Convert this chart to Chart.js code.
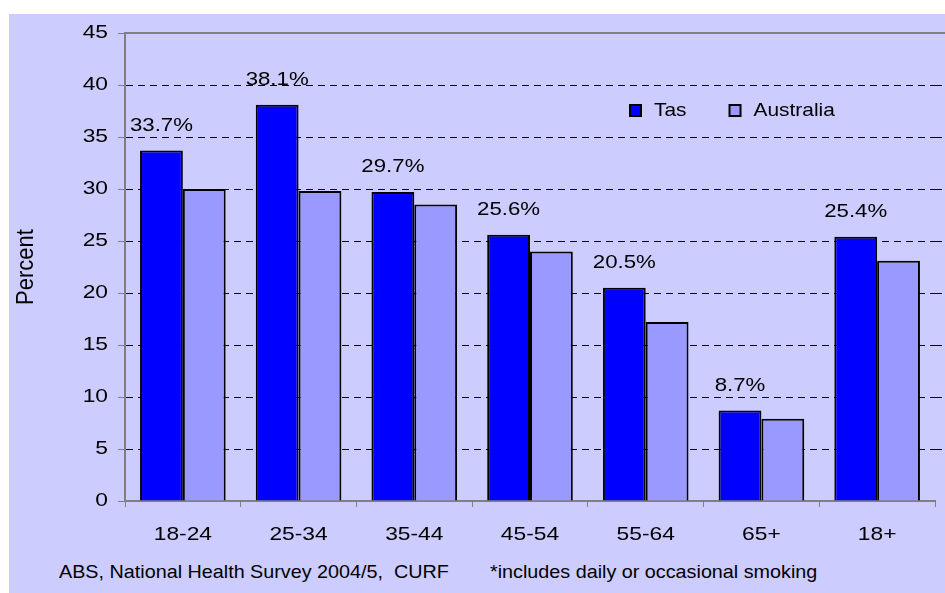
<!DOCTYPE html>
<html>
<head>
<meta charset="utf-8">
<title>Smoking by age - Tas vs Australia</title>
<script src="https://cdn.jsdelivr.net/npm/chart.js@4.4.0/dist/chart.umd.min.js"></script>
<style>
  body {
    margin: 0;
    width: 945px;
    height: 593px;
    overflow: hidden;
    position: relative;
    background: #ffffff;
    font-family: "Liberation Sans", Arial, sans-serif;
  }
  .frame {
    position: absolute;
    left: 9px;
    top: 14px;
    width: 936px;
    height: 579px;
    background: #ccccff;
  }
  .chartBox {
    position: absolute;
    left: 0;
    top: 0;
    width: 936px;
    height: 542px;
  }
  .note {
    position: absolute;
    top: 547px;
    font-size: 19px;
    line-height: 22px;
    color: #000;
    white-space: pre;
    transform: scaleX(1.04);
    transform-origin: 0 50%;
  }
</style>
</head>
<body>
<div class="frame">
  <div class="chartBox"><canvas id="smokingChart"></canvas></div>
  <span class="note" style="left:50px">ABS, National Health Survey 2004/5,  CURF</span>
  <span class="note" style="left:481px">*includes daily or occasional smoking</span>
</div>

<script>
const ageGroups = ["18-24", "25-34", "35-44", "45-54", "55-64", "65+", "18+"];
const tasValues = [33.7, 38.1, 29.7, 25.6, 20.5, 8.7, 25.4];
const ausValues = [30.0, 29.8, 28.5, 24.0, 17.2, 7.9, 23.1];
const seriesNames = ["Tas", "Australia"];
const yTitle = "Percent";
const yMax = 45;
const yStep = 5;

const FONT = "'Liberation Sans', Arial, sans-serif";
const TEXT_FONT = "19px " + FONT;
// the original has its text stretched sideways
const SX = 1.2;

function wideText(ctx, text, x, y, align, sx) {
    ctx.save();
    ctx.translate(x, y);
    ctx.scale(sx || SX, 1);
    ctx.textAlign = align;
    ctx.fillText(text, 0, 0);
    ctx.restore();
}

// axis labels and title, drawn wide
const axisText = {
    id: "axisText",
    afterDraw(chart) {
        const { ctx, chartArea, scales } = chart;
        ctx.save();
        ctx.font = TEXT_FONT;
        ctx.fillStyle = "#000";
        ctx.textBaseline = "middle";

        scales.y.ticks.forEach(t => {
            wideText(ctx, String(t.value), chartArea.left - 17, scales.y.getPixelForValue(t.value), "right");
        });
        scales.x.ticks.forEach((t, i) => {
            wideText(ctx, ageGroups[i], scales.x.getPixelForTick(i), chartArea.bottom + 34, "center");
        });

        ctx.save();
        ctx.translate(17.5, (chartArea.top + chartArea.bottom) / 2);
        ctx.scale(1.1, 1);
        ctx.rotate(-Math.PI / 2);
        ctx.textAlign = "center";
        ctx.font = "22px " + FONT;
        ctx.fillText(yTitle, 0, 0);
        ctx.restore();

        ctx.restore();
    }
};

// percent labels above the Tas bars
const barLabels = {
    id: "barLabels",
    afterDatasetsDraw(chart) {
        const ctx = chart.ctx;
        const meta = chart.getDatasetMeta(0);
        ctx.save();
        ctx.font = TEXT_FONT;
        ctx.fillStyle = "#000";
        ctx.textBaseline = "middle";
        meta.data.forEach((bar, i) => {
            wideText(ctx, tasValues[i].toFixed(1) + "%", bar.x, bar.y - 25, "center", 1.17);
        });
        ctx.restore();
    }
};

// top border + gridlines running out to the right edge
const plotFrame = {
    id: "plotFrame",
    beforeDatasetsDraw(chart) {
        const { ctx, chartArea, scales } = chart;
        const y = scales.y;
        ctx.save();
        ctx.strokeStyle = "#000";
        ctx.lineWidth = 1;
        ctx.setLineDash([7, 5]);
        y.ticks.forEach(t => {
            if (t.value > 0 && t.value < yMax) {
                const py = Math.round(y.getPixelForValue(t.value)) + 0.5;
                ctx.beginPath();
                ctx.moveTo(chartArea.right, py);
                ctx.lineTo(chart.width, py);
                ctx.stroke();
            }
        });
        ctx.restore();
    },
    afterDraw(chart) {
        const { ctx, chartArea } = chart;
        ctx.save();
        ctx.strokeStyle = "#808080";
        ctx.lineWidth = 2;
        ctx.beginPath();
        ctx.moveTo(chartArea.left - 1, chartArea.top);
        ctx.lineTo(chart.width, chartArea.top);
        ctx.stroke();
        ctx.restore();
    }
};

// legend inside the plot
const boxLegend = {
    id: "boxLegend",
    afterDraw(chart) {
        const ctx = chart.ctx;
        const lx = 1.1;
        let x = 621;
        const yc = 97;
        ctx.save();
        ctx.font = TEXT_FONT;
        ctx.textBaseline = "middle";
        chart.data.datasets.forEach(ds => {
            ctx.fillStyle = ds.backgroundColor;
            ctx.fillRect(x, yc - 6, 11, 11);
            ctx.strokeStyle = "#000";
            ctx.lineWidth = 2;
            ctx.strokeRect(x, yc - 6, 11, 11);
            ctx.fillStyle = "#000";
            wideText(ctx, ds.label, x + 24, yc, "left", lx);
            x += 24 + ctx.measureText(ds.label).width * lx + 43;
        });
        ctx.restore();
    }
};

const ctx = document.getElementById("smokingChart").getContext("2d");
new Chart(ctx, {
    type: "bar",
    data: {
        labels: ageGroups,
        datasets: [
            {
                label: seriesNames[0],
                data: tasValues,
                backgroundColor: "#0000ff",
                borderColor: "#000",
                borderWidth: 2,
                categoryPercentage: 0.74,
                barPercentage: 1.0
            },
            {
                label: seriesNames[1],
                data: ausValues,
                backgroundColor: "#9999ff",
                borderColor: "#000",
                borderWidth: 2,
                categoryPercentage: 0.74,
                barPercentage: 1.0
            }
        ]
    },
    options: {
        responsive: true,
        maintainAspectRatio: false,
        animation: false,
        layout: {
            padding: { top: 19, right: 10, left: 0, bottom: 0 }
        },
        plugins: {
            legend: { display: false },
            tooltip: { enabled: false }
        },
        scales: {
            x: {
                grid: {
                    drawOnChartArea: false,
                    drawTicks: true,
                    tickLength: 6,
                    tickColor: "#808080",
                    offset: true
                },
                border: { color: "#808080", width: 2 },
                ticks: { display: false, autoSkip: false },
                afterFit(scale) {
                    scale.height = 55;
                }
            },
            y: {
                min: 0,
                max: yMax,
                ticks: { display: false, stepSize: yStep },
                grid: {
                    color: c => (c.tick && (c.tick.value === 0 || c.tick.value === yMax)) ? "rgba(0,0,0,0)" : "#000",
                    lineWidth: 1,
                    drawTicks: true,
                    tickLength: 7,
                    tickColor: "#808080",
                    tickBorderDash: []
                },
                border: { color: "#808080", width: 2, dash: [7, 5] },
                title: { display: false },
                afterFit(scale) {
                    scale.width = 116;
                }
            }
        }
    },
    plugins: [barLabels, plotFrame, boxLegend, axisText]
});
</script>
</body>
</html>
